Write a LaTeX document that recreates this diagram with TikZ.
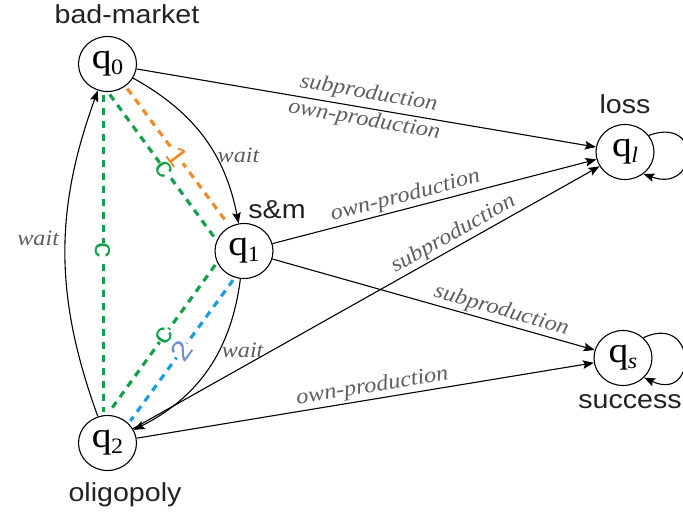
\documentclass[tikz,border=0pt]{standalone}
\usepackage{graphicx}
\usepackage{fontspec}
\setmainfont{Liberation Serif}
\newfontfamily\sansfam{Liberation Sans}
\usetikzlibrary{arrows.meta,shapes.geometric}
\definecolor{lblgray}{HTML}{5E5E5E}
\definecolor{namegray}{HTML}{222222}
\definecolor{dorange}{HTML}{F08A2A}
\definecolor{dgreen}{HTML}{14A04A}
\definecolor{dblue}{HTML}{1E9CE0}
\definecolor{dbluelab}{HTML}{6F8FD0}
\newcommand{\hs}[1]{\scalebox{1.1}[1]{#1}}
\newcommand{\qn}[1]{\hs{\fontsize{36}{36}\selectfont q\kern-0.5pt\raisebox{-6pt}{\fontsize{22}{22}\selectfont #1}}}
\begin{document}
\begin{tikzpicture}[x=1pt,y=-1pt,
  stnode/.style={draw, ellipse, minimum width=58pt, minimum height=55pt, inner sep=0pt, line width=1.1pt},
  arr/.style={line width=1.1pt, -{Stealth[length=11pt,width=8.5pt,inset=2pt]}},
  lab/.style={text=lblgray, font=\fontsize{22}{22}\selectfont\itshape, inner sep=2pt},
  stlabel/.style={font=\sansfam\fontsize{26}{26}\selectfont, text=namegray, anchor=base},
  dsh/.style={line width=3.2pt, dash pattern=on 7pt off 6pt, shorten <=3pt, shorten >=3pt},
  dlab/.style={font=\sansfam\fontsize{28}{28}\selectfont, fill=white, inner sep=0pt, sloped}
]
\useasboundingbox (0,0) rectangle (683,515);

% states
\node[stnode] (q0) at (107.5,64) {\qn{0}};
\node[stnode] (q1) at (244,251) {\qn{1}};
\node[stnode] (q2) at (107.5,443) {\qn{2}};
\node[stnode] (ql) at (625,152) {\qn{\textit{l}}};
\node[stnode] (qs) at (623,358) {\qn{\textit{s}}};

% state names
\node[stlabel] (nq0) at (127,23) {\hs{bad-market}};
\node[stlabel] (nq1) at (277,218) {\hs{s\&m}};
\node[stlabel] (nq2) at (125,501) {\hs{oligopoly}};
\node[stlabel] (nql) at (625,113) {\hs{loss}};
\node[stlabel] (nqs) at (630,408) {\hs{success}};

% dashed coloured relations
\draw[dsh, dorange] (q0.-51) -- (q1.120) node[dlab, text=dorange, pos=0.5] {\hs{1}};
\draw[dsh, dgreen] (q0.-89) -- (q1.159) node[dlab, text=dgreen, pos=0.52] {\hs{c}};
\draw[dsh, dgreen] (q0.-99) -- (q2.99) node[dlab, text=dgreen, pos=0.49] {\hs{c}};
\draw[dsh, dgreen] (q1.-157) -- (q2.91) node[dlab, text=dgreen, pos=0.48] {\hs{c}};
\draw[dsh, dblue] (q1.-109) -- (q2.43) node[dlab, text=dbluelab, pos=0.5] {\hs{2}};

% transitions
\draw[arr] (q0) -- (ql)
  node[lab, sloped, above=2pt, pos=0.5] {\hs{subproduction}}
  node[lab, sloped, below, pos=0.5] {\hs{own-production}};
\draw[arr] (q0) to[bend left=25] node[lab, right, pos=0.62] {\hs{wait}} (q1);
\draw[arr] (q1) to[bend left=28] node[lab, right, pos=0.38] {\hs{wait}} (q2);
\draw[arr] (q2) to[bend left=20] node[lab, left, pos=0.55, xshift=-4pt] {\hs{wait}} (q0);
\draw[arr] (q1) -- (ql) node[lab, sloped, above, pos=0.42] {\hs{own-production}};
\draw[arr] (q1) -- (qs) node[lab, sloped, above, pos=0.7] {\hs{subproduction}};
\draw[arr] (q2) -- (ql) node[lab, sloped, above, pos=0.7] {\hs{subproduction}};
\draw[arr] (q2) -- (qs) node[lab, sloped, above, pos=0.52] {\hs{own-production}};

% self loops
\draw[arr] (ql.35) to[out=20, in=-20, looseness=3.8] (ql.-50);
\draw[arr] (qs.45) to[out=25, in=-25, looseness=3.8] (qs.-43);
\end{tikzpicture}
\end{document}
